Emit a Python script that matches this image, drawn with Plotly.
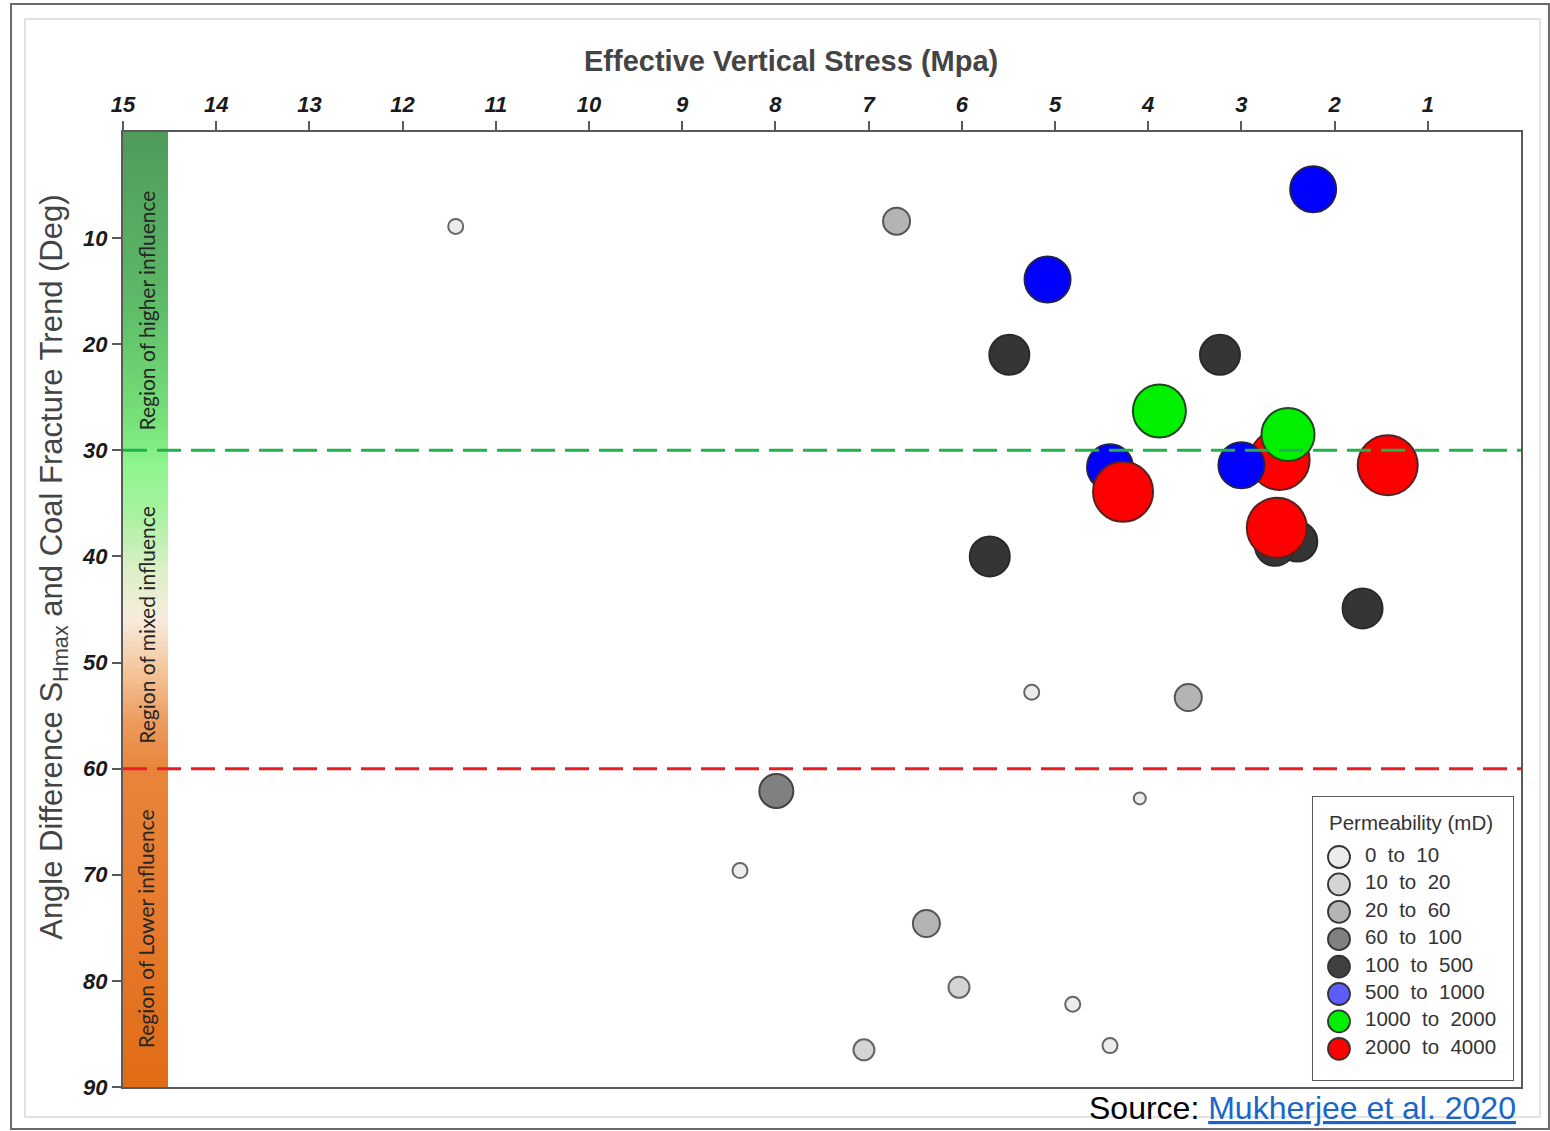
import numpy as np
import plotly.graph_objects as go

# ---- data -------------------------------------------------------------
perm_classes = ["0  to  10", "10  to  20", "20  to  60", "60  to  100",
                "100  to  500", "500  to  1000", "1000  to  2000", "2000  to  4000"]

# effective vertical stress (MPa), angle difference (deg), permeability class index
stress = [11.43, 6.70, 2.23, 5.08, 5.49, 3.23, 3.88, 4.41, 4.27, 2.59,
          3.00, 2.50, 1.43, 2.40, 2.64, 2.62, 5.70, 1.70, 5.25, 3.57,
          7.99, 4.09, 8.38, 6.38, 6.03, 4.81, 4.41, 7.05]
angle = [8.9, 8.4, 5.4, 13.9, 21.0, 21.0, 26.3, 31.6, 33.9, 30.9,
         31.4, 28.5, 31.4, 38.6, 39.0, 37.3, 40.0, 44.9, 52.8, 53.3,
         62.1, 62.8, 69.6, 74.6, 80.6, 82.2, 86.1, 86.5]
perm_class = [0, 2, 5, 5, 4, 4, 6, 5, 7, 7,
              5, 6, 7, 4, 4, 7, 4, 4, 0, 2,
              3, 0, 0, 2, 1, 0, 0, 1]

thresholds = [30, 60]
regions = ["Region of higher influence", "Region of mixed influence", "Region of Lower influence"]
region_centers = [16.8, 46.5, 75.1]

# ---- styles -----------------------------------------------------------
point_colors = ["#ececec", "#d4d4d4", "#b4b4b4", "#808080",
                "#353535", "#0000ff", "#00f000", "#ff0000"]
swatch_colors = ["#ececec", "#d4d4d4", "#b4b4b4", "#808080",
                 "#404040", "#5c5cff", "#00ee00", "#ff0000"]
class_sizes = [15, 21, 27, 34, 40, 46, 53, 60]
edge_colors = ["#666666", "#666666", "#555555", "#444444",
               "#2a2a2a", "#22224a", "#224422", "#552222"]

fig = go.Figure()

# gradient band along the left edge
band_edges = np.linspace(0, 90, 181)
band_mid = (band_edges[:-1] + band_edges[1:]) / 2
band_scale = [
    [0.00, "#4f9b5a"], [0.17, "#5cb866"], [0.31, "#78e47a"], [0.35, "#8ef68e"],
    [0.40, "#a8f2a0"], [0.46, "#dcefc8"], [0.51, "#f8ecdc"], [0.56, "#f5c8a0"],
    [0.62, "#ec9a5a"], [0.67, "#e8843a"], [0.85, "#e6782a"], [1.00, "#e06c14"],
]
fig.add_trace(go.Heatmap(
    x=[15, 14.52], y=band_edges, z=band_mid.reshape(-1, 1),
    colorscale=band_scale, zmin=0, zmax=90, showscale=False,
    hoverinfo="skip",
))

# threshold lines
fig.add_hline(y=thresholds[0], line=dict(color="#22b24c", width=3, dash="24px,10px"))
fig.add_hline(y=thresholds[1], line=dict(color="#ec1c24", width=3, dash="24px,10px"))

# data points
sizes = [class_sizes[c] for c in perm_class]
sizes[21] = 12
fig.add_trace(go.Scatter(
    x=stress, y=angle, mode="markers",
    marker=dict(
        size=sizes,
        color=[point_colors[c] for c in perm_class],
        line=dict(color=[edge_colors[c] for c in perm_class], width=2),
        opacity=1,
    ),
    showlegend=False, hoverinfo="x+y",
))

# region labels on the band
for text, yc in zip(regions, region_centers):
    fig.add_annotation(x=14.75, y=yc, text=text, textangle=-90, showarrow=False,
                       font=dict(family="Lato, Open Sans, sans-serif", size=21, color="#262626"))

# ---- legend built on its own small axes --------------------------------
idx = list(range(len(perm_classes)))
fig.add_trace(go.Scatter(
    x=[0.13] * len(idx), y=idx, mode="markers",
    marker=dict(size=22, color=swatch_colors, line=dict(color="#333333", width=1.8)),
    xaxis="x2", yaxis="y2", showlegend=False, hoverinfo="skip",
))
fig.add_trace(go.Scatter(
    x=[0.26] * len(idx), y=idx, mode="text", text=perm_classes,
    textposition="middle right",
    textfont=dict(family="Liberation Sans, Arial, sans-serif", size=20.5, color="#333333"),
    xaxis="x2", yaxis="y2", showlegend=False, hoverinfo="skip",
))
fig.add_annotation(xref="x2", yref="y2", x=0.49, y=-1.24, text="Permeability (mD)",
                   showarrow=False,
                   font=dict(family="Liberation Sans, Arial, sans-serif", size=20.5, color="#333333"))
fig.add_shape(type="rect", xref="x2 domain", yref="y2 domain", x0=0, x1=1, y0=0, y1=1,
              line=dict(color="#555555", width=2), fillcolor="rgba(0,0,0,0)", layer="below")

# page frames
fig.add_shape(type="rect", xref="paper", yref="paper",
              x0=-0.0801, x1=1.0200, y0=-0.0440, y1=1.1340,
              line=dict(color="#6a6a6a", width=2))
fig.add_shape(type="rect", xref="paper", yref="paper",
              x0=-0.0701, x1=1.0136, y0=-0.0314, y1=1.1183,
              line=dict(color="#e2e2e2", width=2))

# titles and source
fig.add_annotation(xref="paper", yref="paper", x=0.478, y=1.074, xanchor="center", yanchor="middle",
                   text="<b>Effective Vertical Stress (Mpa)</b>", showarrow=False,
                   font=dict(family="Liberation Sans, Arial, sans-serif", size=29, color="#444444"))
fig.add_annotation(xref="paper", yref="paper", x=-0.0495, y=0.5445, xanchor="center", yanchor="middle",
                   textangle=-90,
                   text="Angle Difference S<sub>Hmax</sub> and Coal Fracture Trend (Deg)",
                   showarrow=False,
                   font=dict(family="Liberation Sans, Arial, sans-serif", size=31, color="#444444"))
fig.add_annotation(xref="paper", yref="paper", x=0.9975, y=-0.022, xanchor="right", yanchor="middle",
                   text="Source: <span style='color:#1a66c8'><u>Mukherjee et al. 2020</u></span>",
                   showarrow=False,
                   font=dict(family="Liberation Sans, Arial, sans-serif", size=32, color="#000000"))

tick_font = dict(family="Liberation Sans, Arial, sans-serif", size=22, color="#1a1a1a",
                 weight="bold", style="italic")

fig.update_layout(
    width=1550, height=1131,
    margin=dict(l=123, r=29, t=132, b=44),
    paper_bgcolor="white", plot_bgcolor="white",
    xaxis=dict(
        side="top", range=[15, 0], tickvals=list(range(1, 16)),
        showgrid=False, zeroline=False, showline=True, mirror=True,
        linecolor="#5a5a5a", linewidth=2, ticks="outside", ticklen=9,
        tickcolor="#5a5a5a", tickwidth=1.5, tickfont=tick_font,
    ),
    yaxis=dict(
        range=[90, 0], tickvals=list(range(10, 91, 10)),
        showgrid=False, zeroline=False, showline=True, mirror=True,
        linecolor="#5a5a5a", linewidth=2, ticks="outside", ticklen=9,
        tickcolor="#5a5a5a", tickwidth=1.5, tickfont=tick_font,
    ),
    xaxis2=dict(domain=[0.8512, 0.9943], range=[0, 1], visible=False, anchor="y2"),
    yaxis2=dict(domain=[0.0073, 0.3037], range=[8.14, -2.19], visible=False, anchor="x2"),
    showlegend=False,
)

fig.write_html("out.html")
